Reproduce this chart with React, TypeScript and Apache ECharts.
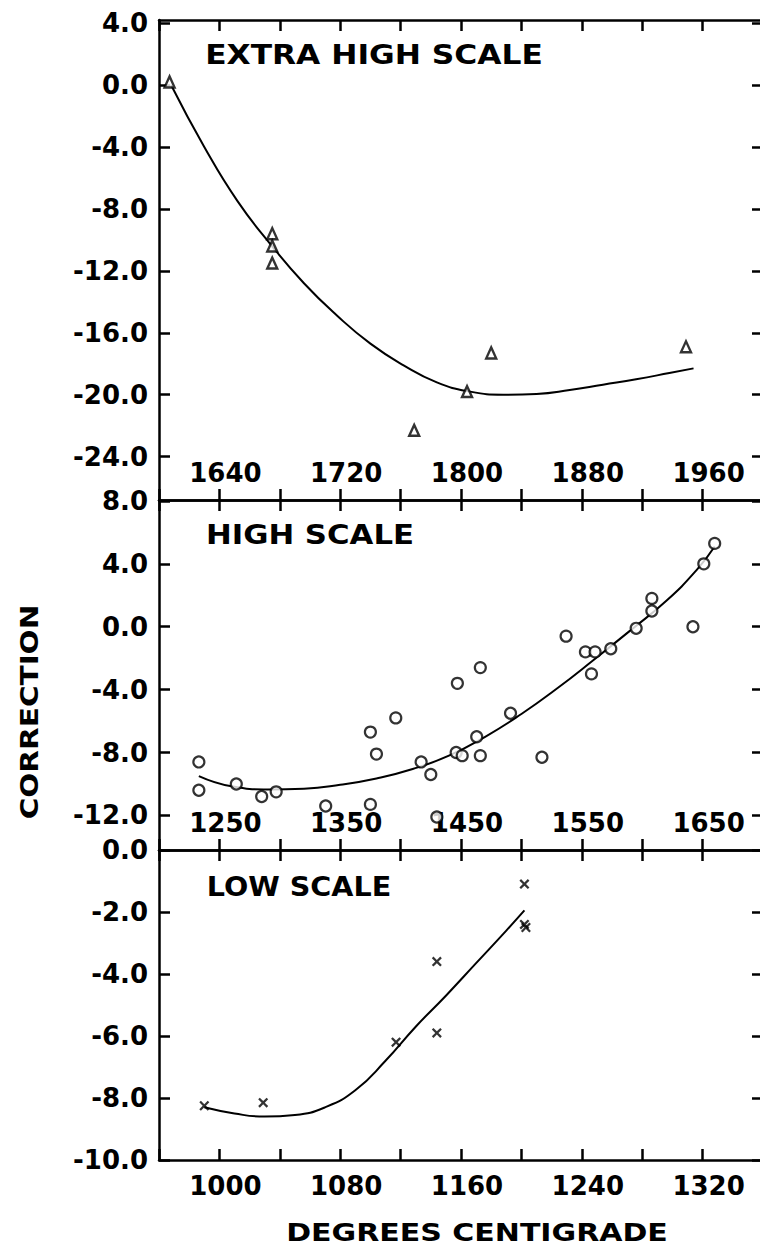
import React, { useEffect, useRef } from "react";
import * as echarts from "echarts";

// ---------- data ----------
// EXTRA HIGH SCALE (triangles)
const extraHighX = [1607, 1675, 1675, 1675, 1769, 1804, 1820, 1949];
const extraHighY = [0.2, -9.6, -10.4, -11.5, -22.3, -19.8, -17.3, -16.9];
const extraHighCurveX = [1608, 1630, 1652, 1674, 1696, 1718, 1740, 1762, 1784, 1806, 1828, 1850, 1872, 1894, 1916, 1938, 1954];
const extraHighCurveY = [0.0, -4.0, -7.5, -10.3, -12.8, -14.9, -16.7, -18.1, -19.2, -19.8, -20.0, -19.95, -19.7, -19.35, -19.0, -18.6, -18.3];
const extraHighXLabels = [1640, 1720, 1800, 1880, 1960];
const extraHighYTicks = [4, 0, -4, -8, -12, -16, -20, -24];

// HIGH SCALE (circles)
const highX = [1233, 1233, 1264, 1285, 1297, 1338, 1375, 1375, 1380, 1396, 1417, 1425, 1430, 1447, 1446, 1451, 1463, 1466, 1466, 1491, 1517, 1537, 1553, 1561, 1558, 1574, 1595, 1608, 1608, 1642, 1651, 1660];
const highY = [-8.6, -10.4, -10.0, -10.8, -10.5, -11.4, -6.7, -11.3, -8.1, -5.8, -8.6, -9.4, -12.1, -3.6, -8.0, -8.2, -7.0, -2.6, -8.2, -5.5, -8.3, -0.6, -1.6, -1.6, -3.0, -1.4, -0.1, 1.8, 1.0, 0.0, 4.0, 5.3];
const highCurveX = [1233, 1260, 1290, 1320, 1350, 1380, 1410, 1440, 1470, 1500, 1530, 1560, 1590, 1620, 1645, 1660];
const highCurveY = [-9.5, -10.15, -10.35, -10.3, -10.05, -9.65, -9.05, -8.2, -7.0, -5.55, -3.9, -2.1, -0.25, 1.65, 3.6, 5.1];
const highXLabels = [1250, 1350, 1450, 1550, 1650];
const highYTicks = [8, 4, 0, -4, -8, -12];

// LOW SCALE (crosses)
const lowX = [990, 1029, 1117, 1144, 1144, 1202, 1202, 1203];
const lowY = [-8.25, -8.15, -6.2, -3.6, -5.9, -1.1, -2.4, -2.5];
const lowCurveX = [990, 1010, 1030, 1050, 1070, 1090, 1110, 1130, 1150, 1170, 1190, 1202];
const lowCurveY = [-8.3, -8.5, -8.6, -8.55, -8.3, -7.75, -6.8, -5.7, -4.7, -3.65, -2.6, -1.95];
const lowXLabels = [1000, 1080, 1160, 1240, 1320];
const lowYTicks = [0, -2, -4, -6, -8, -10];

const pair = (xs: number[], ys: number[]) => xs.map((x, i) => [x, ys[i]]);

const FONT = "DejaVu Sans";
const BLACK = "#000";
const crossPath = "path://M0,1.6L1.6,0L5,3.4L8.4,0L10,1.6L6.6,5L10,8.4L8.4,10L5,6.6L1.6,10L0,8.4L3.4,5Z";

export default function App() {
  const ref = useRef<HTMLDivElement>(null);
  useEffect(() => {
    if (!ref.current) return;
    const chart = echarts.init(ref.current, undefined, { renderer: "svg" });

    const grids = [
      { left: 159, top: 20, width: 604, height: 480, outerBoundsMode: "none", containLabel: false },
      { left: 159, top: 500, width: 604, height: 350, outerBoundsMode: "none", containLabel: false },
      { left: 159, top: 850, width: 604, height: 310, outerBoundsMode: "none", containLabel: false },
    ];
    const xCfg = [
      { min: 1600, max: 2000, interval: 40, labels: extraHighXLabels, inside: true },
      { min: 1200, max: 1700, interval: 50, labels: highXLabels, inside: true },
      { min: 960, max: 1360, interval: 40, labels: lowXLabels, inside: false },
    ];
    const yCfg = [
      { min: -26.8, max: 4.2, ticks: extraHighYTicks },
      { min: -14.2, max: 8.06, ticks: highYTicks },
      { min: -10, max: 0, ticks: lowYTicks },
    ];
    const line = { show: true, onZero: false, lineStyle: { color: BLACK, width: 2.5 } };
    const tick = { show: true, inside: true, length: 11, lineStyle: { color: BLACK, width: 2.5 } };
    const labelStyle = { color: BLACK, fontSize: 26, fontWeight: "bold" as const, fontFamily: FONT };

    const xAxis: any[] = [];
    const yAxis: any[] = [];
    for (let i = 0; i < 3; i++) {
      const c = xCfg[i];
      const base = { gridIndex: i, type: "value", min: c.min, max: c.max, interval: c.interval, splitLine: { show: false }, axisLine: line, axisTick: tick };
      xAxis.push({
        ...base,
        position: "bottom",
        axisLabel: {
          ...labelStyle,
          inside: c.inside,
          margin: c.inside ? 14 : 13,
          padding: [0, 0, 0, 12],
          showMinLabel: true,
          showMaxLabel: true,
          hideOverlap: false,
          formatter: (v: number) => (c.labels.includes(v) ? String(v) : ""),
        },
      });
      xAxis.push({ ...base, position: "top", axisLabel: { show: false } });
      const y = yCfg[i];
      const ybase = { gridIndex: i, type: "value", min: y.min, max: y.max, splitLine: { show: false } };
      yAxis.push({
        ...ybase,
        position: "left",
        axisLine: line,
        axisTick: { ...tick, customValues: y.ticks },
        axisLabel: { ...labelStyle, margin: 11, customValues: y.ticks, formatter: (v: number) => v.toFixed(1) },
      });
      yAxis.push({
        ...ybase,
        position: "right",
        axisLine: { show: false },
        axisTick: { ...tick, customValues: y.ticks },
        axisLabel: { show: false },
      });
    }

    const curve = (xi: number, yi: number, xs: number[], ys: number[]) => ({
      type: "line",
      xAxisIndex: xi,
      yAxisIndex: yi,
      data: pair(xs, ys),
      smooth: 0.5,
      showSymbol: false,
      symbol: "none",
      lineStyle: { color: BLACK, width: 2 },
      z: 2,
    });

    const titleText = (text: string, x: number, y: number, size: number, scaleX: number, rotation = 0) => ({
      type: "text",
      x,
      y,
      rotation,
      scaleX,
      style: { text, font: `bold ${size}px "${FONT}"`, fill: BLACK, align: "center", verticalAlign: "middle" },
    });

    chart.setOption({
      animation: false,
      backgroundColor: "#fff",
      grid: grids,
      xAxis,
      yAxis,
      series: [
        curve(0, 0, extraHighCurveX, extraHighCurveY),
        {
          type: "scatter",
          xAxisIndex: 0,
          yAxisIndex: 0,
          data: pair(extraHighX, extraHighY),
          symbol: "triangle",
          symbolSize: [10, 11],
          itemStyle: { color: "#fff", borderColor: BLACK, borderWidth: 2.4 },
          z: 3,
        },
        curve(2, 2, highCurveX, highCurveY),
        {
          type: "scatter",
          xAxisIndex: 2,
          yAxisIndex: 2,
          data: pair(highX, highY),
          symbol: "circle",
          symbolSize: 11,
          itemStyle: { color: "#fff", borderColor: BLACK, borderWidth: 2.2 },
          z: 3,
        },
        curve(4, 4, lowCurveX, lowCurveY),
        {
          type: "scatter",
          xAxisIndex: 4,
          yAxisIndex: 4,
          data: pair(lowX, lowY),
          symbol: crossPath,
          symbolSize: 10,
          itemStyle: { color: BLACK },
          z: 3,
        },
      ],
      graphic: [
        titleText("EXTRA HIGH SCALE", 374, 55, 27, 1.16),
        titleText("HIGH SCALE", 310, 535, 27, 1.14),
        titleText("LOW SCALE", 299, 887, 27, 1.06),
        titleText("CORRECTION", 29, 712, 25, 1.18, Math.PI / 2),
        titleText("DEGREES CENTIGRADE", 477, 1232, 25, 1.2),
      ],
    });
    return () => chart.dispose();
  }, []);
  return <div ref={ref} style={{ position: "absolute", left: 0, top: 0, width: 760, height: 1249 }} />;
}
